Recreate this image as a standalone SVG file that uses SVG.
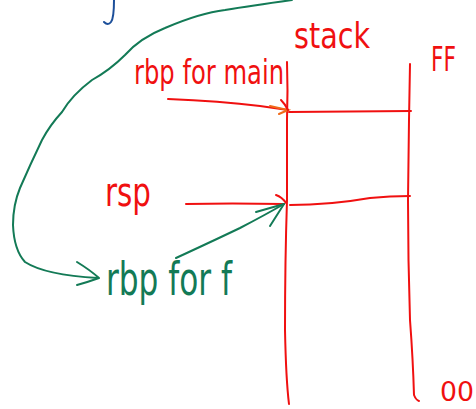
<svg xmlns="http://www.w3.org/2000/svg" width="476" height="409" viewBox="0 0 476 409">
  <style>
    .red { fill: none; stroke: #f01010; stroke-width: 2; stroke-linecap: round; stroke-linejoin: round; }
    .green { fill: none; stroke: #137a56; stroke-width: 2; stroke-linecap: round; stroke-linejoin: round; }
    .blue { fill: none; stroke: #1c4f9a; stroke-width: 2; stroke-linecap: round; }
    .orange { fill: none; stroke: #f06a1a; stroke-width: 2; stroke-linecap: round; }
    .lbl { font-family: "DejaVu Sans", "Liberation Sans", sans-serif; }
    .lr { fill: #f01010; }
    .lg { fill: #137a56; }
  </style>

  <!-- stray pen stroke at the top -->
  <path class="blue" d="M114 0 Q114 18 111 22 Q108 26 104 22"/>

  <!-- stack frame -->
  <g id="stack">
    <path class="red" d="M287 62 Q288 90 287 120 L287 200 Q285 260 285 330 Q286 380 289 404"/>
    <path class="red" d="M410 64 L409 120 L408 200 Q408 260 410 320 Q413 360 414 395 Q416 400 419 401"/>
    <path class="red" d="M289 112 L411 111"/>
    <path class="red" d="M290 205 Q330 205 370 198 Q390 196 410 196"/>
    <text class="lbl lr" x="294" y="48" font-size="36" textLength="76" lengthAdjust="spacingAndGlyphs">stack</text>
    <text class="lbl lr" x="431" y="71" font-size="34" textLength="25" lengthAdjust="spacingAndGlyphs">FF</text>
    <text class="lbl lr" x="440" y="401" font-size="26" textLength="34" lengthAdjust="spacingAndGlyphs">00</text>
  </g>

  <g id="rbp-main">
    <text class="lbl lr" x="134" y="84" font-size="34" textLength="150" lengthAdjust="spacingAndGlyphs">rbp for main</text>
  </g>

  <g id="rsp">
    <text class="lbl lr" x="105" y="206" font-size="40" textLength="46" lengthAdjust="spacingAndGlyphs">rsp</text>
  </g>

  <g id="rbp-f">
    <text class="lbl lg" x="106" y="295" font-size="46" textLength="126" lengthAdjust="spacingAndGlyphs">rbp for f</text>
  </g>

  <!-- connectors -->
  <g id="connectors">
    <!-- rbp for main -> stack -->
    <path class="red" d="M168 99 Q220 101 260 106 L288 110"/>
    <path class="orange" d="M270 106 L288 110 L279 114"/>
    <path class="red" d="M281 100 Q285 104 288 110"/>
    <!-- rsp -> stack -->
    <path class="red" d="M186 204 Q230 203 284 204"/>
    <path class="red" d="M276 195 Q282 197 286 203"/>
    <!-- rbp for f -> stack -->
    <path class="green" d="M176 258 Q215 240 240 228 Q265 215 284 204"/>
    <path class="green" d="M256 212 L284 204 L270 226"/>
    <!-- long curve from above into rbp for f -->
    <path class="green" d="M292 0 Q250 6 225 10 Q200 13 165 28 Q140 38 125 55 Q110 70 92 80 Q72 95 62 112 Q50 125 42 140 Q30 165 20 188 Q13 205 13 225 Q14 250 25 262 Q45 275 98 278"/>
    <path class="green" d="M77 262 Q90 270 99 278 Q88 282 77 285"/>
  </g>
</svg>
